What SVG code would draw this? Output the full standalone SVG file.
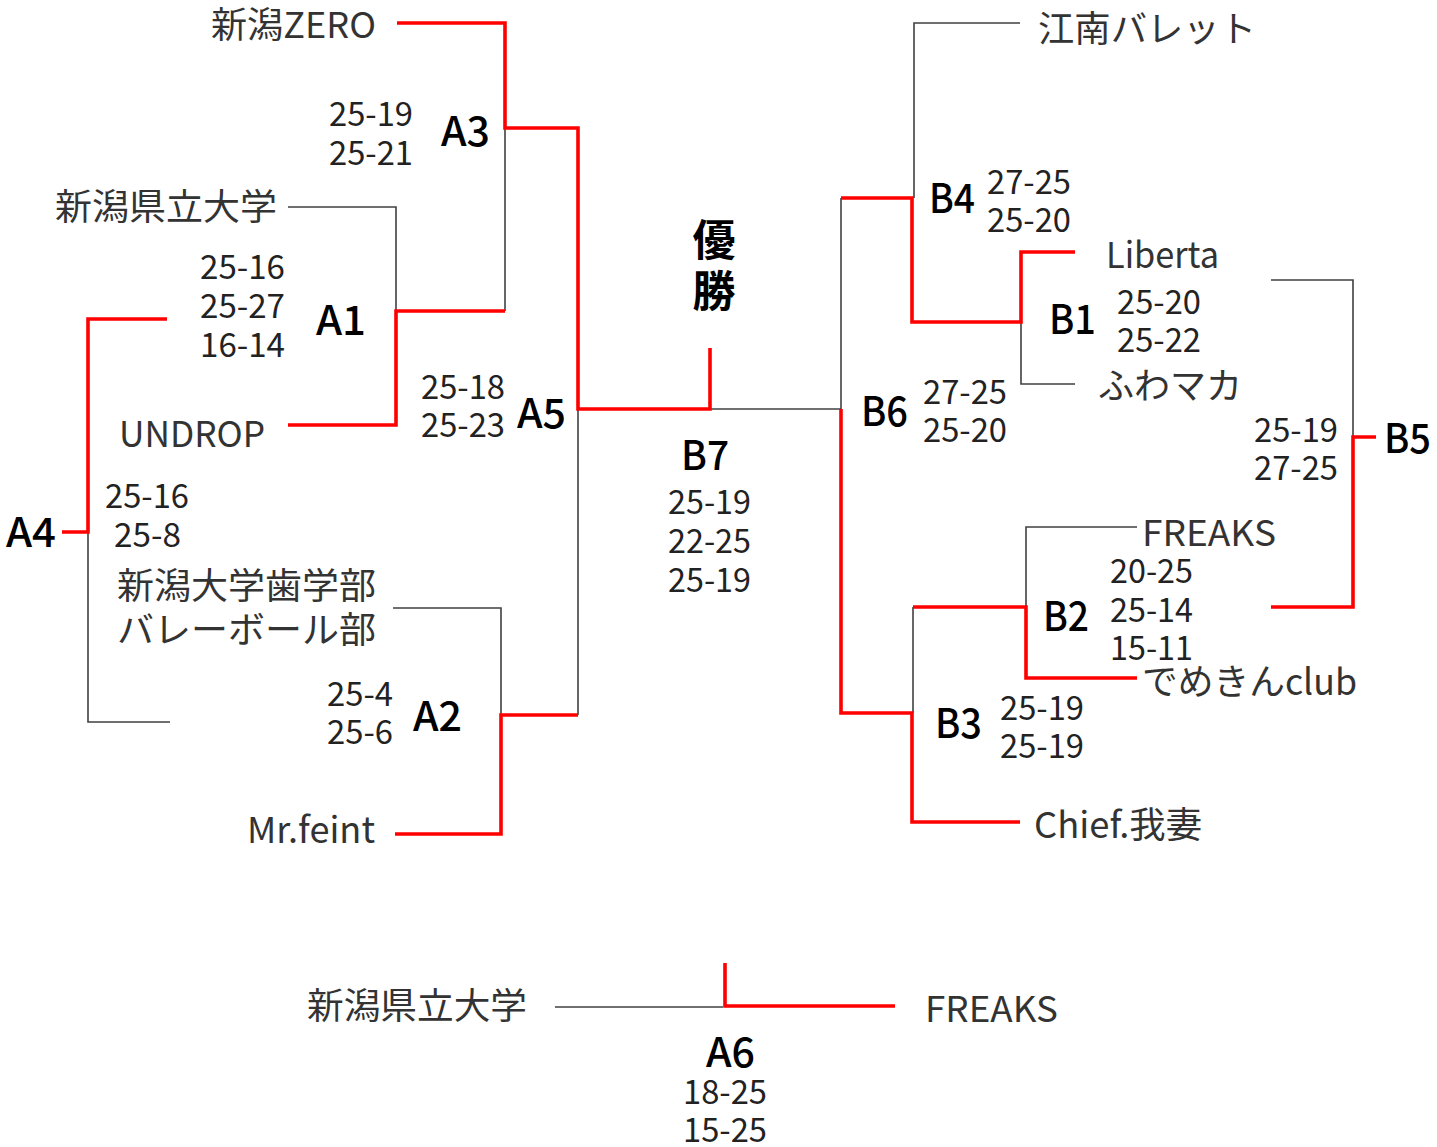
<svg xmlns="http://www.w3.org/2000/svg" width="1437" height="1147" viewBox="0 0 1437 1147">
<style>
text{font-family:"Noto Sans CJK JP","Noto Sans",sans-serif;}
.team{font-size:36px;fill:#333333;}
.score{font-size:33px;fill:#222222;}
.match{font-size:41px;fill:#000000;font-weight:500;}
.win{font-size:43px;fill:#000000;font-weight:700;}
.g{fill:none;stroke:#404040;stroke-width:1.6;}
.r{fill:none;stroke:#ff0000;stroke-width:3.6;stroke-linejoin:miter;}
</style>
<rect width="1437" height="1147" fill="#ffffff"/>
<g id="connectors">
  <polyline class="g" points="505,128 505,311"/>
  <polyline class="g" points="288,207 396,207 396,311"/>
  <polyline class="g" points="88,532 88,722 170,722"/>
  <polyline class="g" points="393,608 501,608 501,715"/>
  <polyline class="g" points="578,409 578,715"/>
  <polyline class="g" points="710,409 841,409"/>
  <polyline class="g" points="1020,23 914,23 914,198"/>
  <polyline class="g" points="841,198 841,409"/>
  <polyline class="g" points="1021,322 1021,384 1075,384"/>
  <polyline class="g" points="1137,527 1026,527 1026,607"/>
  <polyline class="g" points="913,607 913,713"/>
  <polyline class="g" points="1271,280 1353,280 1353,437"/>
  <polyline class="g" points="555,1007 723,1007"/>
  <polyline class="r" points="397,23 505,23 505,128 578,128 578,409 710,409 710,348"/>
  <polyline class="r" points="167,319 88,319 88,532 62,532"/>
  <polyline class="r" points="288,425 396,425 396,311 505,311"/>
  <polyline class="r" points="395,834 501,834 501,715 578,715"/>
  <polyline class="r" points="841,198 912,198 912,322 1021,322 1021,252 1075,252"/>
  <polyline class="r" points="841,409 841,713 912,713 912,822 1020,822"/>
  <polyline class="r" points="913,607 1026,607 1026,678 1137,678"/>
  <polyline class="r" points="1376,437 1353,437 1353,607 1271,607"/>
  <polyline class="r" points="725,963 725,1006 895,1006"/>
</g>
<g id="team-niigata-zero"><text class="team" x="211" y="38" textLength="165" lengthAdjust="spacingAndGlyphs">新潟ZERO</text></g>
<g id="team-kenritsu"><text class="team" x="55" y="220" textLength="222" lengthAdjust="spacingAndGlyphs">新潟県立大学</text></g>
<g id="team-undrop"><text class="team" x="119" y="447" textLength="146" lengthAdjust="spacingAndGlyphs">UNDROP</text></g>
<g id="team-shigakubu">
  <text class="team" x="117" y="599" textLength="259" lengthAdjust="spacingAndGlyphs">新潟大学歯学部</text>
  <text class="team" x="117" y="643" textLength="259" lengthAdjust="spacingAndGlyphs">バレーボール部</text>
</g>
<g id="team-mrfeint"><text class="team" x="247" y="843" textLength="128" lengthAdjust="spacingAndGlyphs">Mr.feint</text></g>
<g id="team-konan"><text class="team" x="1038" y="42" textLength="218" lengthAdjust="spacingAndGlyphs">江南バレット</text></g>
<g id="team-liberta"><text class="team" x="1106" y="268" textLength="113" lengthAdjust="spacingAndGlyphs">Liberta</text></g>
<g id="team-fuwamaka"><text class="team" x="1098" y="399" textLength="144" lengthAdjust="spacingAndGlyphs">ふわマカ</text></g>
<g id="team-freaks"><text class="team" x="1142" y="546" textLength="134" lengthAdjust="spacingAndGlyphs">FREAKS</text></g>
<g id="team-demekin"><text class="team" x="1142" y="695" textLength="215" lengthAdjust="spacingAndGlyphs">でめきんclub</text></g>
<g id="team-chief"><text class="team" x="1034" y="838" textLength="168" lengthAdjust="spacingAndGlyphs">Chief.我妻</text></g>
<g id="team-kenritsu-2"><text class="team" x="307" y="1019" textLength="220" lengthAdjust="spacingAndGlyphs">新潟県立大学</text></g>
<g id="team-freaks-2"><text class="team" x="925" y="1022" textLength="133" lengthAdjust="spacingAndGlyphs">FREAKS</text></g>
<g id="champion">
  <text class="win" x="714" y="256" text-anchor="middle">優</text>
  <text class="win" x="714" y="307" text-anchor="middle">勝</text>
</g>
<g id="match-A1">
  <text class="match" x="316" y="335" textLength="50" lengthAdjust="spacingAndGlyphs">A1</text>
  <text class="score" x="200" y="279" textLength="85" lengthAdjust="spacingAndGlyphs">25-16</text>
  <text class="score" x="200" y="318" textLength="85" lengthAdjust="spacingAndGlyphs">25-27</text>
  <text class="score" x="200" y="357" textLength="85" lengthAdjust="spacingAndGlyphs">16-14</text>
</g>
<g id="match-A2">
  <text class="match" x="413" y="731" textLength="49" lengthAdjust="spacingAndGlyphs">A2</text>
  <text class="score" x="327" y="706" textLength="66" lengthAdjust="spacingAndGlyphs">25-4</text>
  <text class="score" x="327" y="744" textLength="66" lengthAdjust="spacingAndGlyphs">25-6</text>
</g>
<g id="match-A3">
  <text class="match" x="441" y="146" textLength="49" lengthAdjust="spacingAndGlyphs">A3</text>
  <text class="score" x="329" y="126" textLength="84" lengthAdjust="spacingAndGlyphs">25-19</text>
  <text class="score" x="329" y="165" textLength="84" lengthAdjust="spacingAndGlyphs">25-21</text>
</g>
<g id="match-A4">
  <text class="match" x="6" y="547" textLength="50" lengthAdjust="spacingAndGlyphs">A4</text>
  <text class="score" x="105" y="508" textLength="84" lengthAdjust="spacingAndGlyphs">25-16</text>
  <text class="score" x="114" y="547" textLength="67" lengthAdjust="spacingAndGlyphs">25-8</text>
</g>
<g id="match-A5">
  <text class="match" x="517" y="428" textLength="49" lengthAdjust="spacingAndGlyphs">A5</text>
  <text class="score" x="421" y="399" textLength="84" lengthAdjust="spacingAndGlyphs">25-18</text>
  <text class="score" x="421" y="437" textLength="84" lengthAdjust="spacingAndGlyphs">25-23</text>
</g>
<g id="match-A6">
  <text class="match" x="706" y="1067" textLength="49" lengthAdjust="spacingAndGlyphs">A6</text>
  <text class="score" x="683" y="1104" textLength="84" lengthAdjust="spacingAndGlyphs">18-25</text>
  <text class="score" x="683" y="1142" textLength="84" lengthAdjust="spacingAndGlyphs">15-25</text>
</g>
<g id="match-B1">
  <text class="match" x="1049" y="334" textLength="47" lengthAdjust="spacingAndGlyphs">B1</text>
  <text class="score" x="1117" y="314" textLength="84" lengthAdjust="spacingAndGlyphs">25-20</text>
  <text class="score" x="1117" y="352" textLength="84" lengthAdjust="spacingAndGlyphs">25-22</text>
</g>
<g id="match-B2">
  <text class="match" x="1043" y="631" textLength="46" lengthAdjust="spacingAndGlyphs">B2</text>
  <text class="score" x="1110" y="583" textLength="83" lengthAdjust="spacingAndGlyphs">20-25</text>
  <text class="score" x="1110" y="622" textLength="83" lengthAdjust="spacingAndGlyphs">25-14</text>
  <text class="score" x="1110" y="660" textLength="83" lengthAdjust="spacingAndGlyphs">15-11</text>
</g>
<g id="match-B3">
  <text class="match" x="935" y="738" textLength="47" lengthAdjust="spacingAndGlyphs">B3</text>
  <text class="score" x="1000" y="720" textLength="84" lengthAdjust="spacingAndGlyphs">25-19</text>
  <text class="score" x="1000" y="758" textLength="84" lengthAdjust="spacingAndGlyphs">25-19</text>
</g>
<g id="match-B4">
  <text class="match" x="929" y="213" textLength="46" lengthAdjust="spacingAndGlyphs">B4</text>
  <text class="score" x="987" y="194" textLength="84" lengthAdjust="spacingAndGlyphs">27-25</text>
  <text class="score" x="987" y="232" textLength="84" lengthAdjust="spacingAndGlyphs">25-20</text>
</g>
<g id="match-B5">
  <text class="match" x="1384" y="453" textLength="47" lengthAdjust="spacingAndGlyphs">B5</text>
  <text class="score" x="1254" y="442" textLength="84" lengthAdjust="spacingAndGlyphs">25-19</text>
  <text class="score" x="1254" y="480" textLength="84" lengthAdjust="spacingAndGlyphs">27-25</text>
</g>
<g id="match-B6">
  <text class="match" x="861" y="426" textLength="47" lengthAdjust="spacingAndGlyphs">B6</text>
  <text class="score" x="923" y="404" textLength="84" lengthAdjust="spacingAndGlyphs">27-25</text>
  <text class="score" x="923" y="442" textLength="84" lengthAdjust="spacingAndGlyphs">25-20</text>
</g>
<g id="match-B7">
  <text class="match" x="681" y="470" textLength="48" lengthAdjust="spacingAndGlyphs">B7</text>
  <text class="score" x="668" y="514" textLength="83" lengthAdjust="spacingAndGlyphs">25-19</text>
  <text class="score" x="668" y="553" textLength="83" lengthAdjust="spacingAndGlyphs">22-25</text>
  <text class="score" x="668" y="592" textLength="83" lengthAdjust="spacingAndGlyphs">25-19</text>
</g>
</svg>
